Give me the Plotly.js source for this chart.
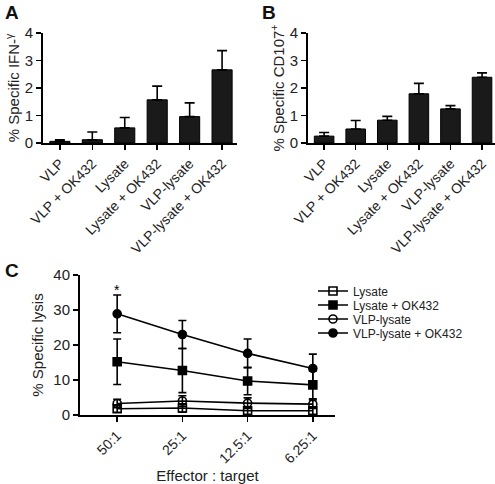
<!DOCTYPE html>
<html><head><meta charset="utf-8">
<script src="https://cdn.plot.ly/plotly-3.0.1.min.js"></script>
<style>html,body{margin:0;padding:0;background:#fff}#chart{width:495px;height:484px}</style>
</head><body><div id="chart"></div>
<script>
// ---- data ----
const treatments = ['VLP','VLP + OK432','Lysate','Lysate + OK432','VLP-lysate','VLP-lysate + OK432'];
const ifnMean = [0.06,0.12,0.55,1.57,0.96,2.66];
const ifnErr  = [0.06,0.28,0.38,0.50,0.50,0.70];
const cdMean  = [0.25,0.51,0.83,1.79,1.24,2.39];
const cdErr   = [0.13,0.31,0.14,0.38,0.12,0.16];

const ratios = ['50:1','25:1','12.5:1','6.25:1'];
const lysate      = [1.8,2.0,1.2,1.2];
const lysateErr   = [1.0,1.2,1.0,1.0];
const lysateOK    = [15.2,12.7,9.7,8.6];
const lysateOKErr = [6.5,6.3,3.9,4.0];
const vlpLys      = [3.3,4.0,3.4,3.1];
const vlpLysErr   = [1.2,1.5,1.5,1.2];
const vlpLysOK    = [28.9,23.0,17.6,13.3];
const vlpLysOKErr = [5.4,4.0,4.1,4.1];

const seriesNames = ['Lysate','Lysate + OK432','VLP-lysate','VLP-lysate + OK432'];
const seriesVals = [lysate, lysateOK, vlpLys, vlpLysOK];
const seriesErrs = [lysateErr, lysateOKErr, vlpLysErr, vlpLysOKErr];
const seriesSymbols = ['square-open','square','circle-open','circle'];

// ---- styling ----
const FONT = 'Arial, "Liberation Sans", Helvetica, sans-serif';
const TXT = '#222';
const W = 495, H = 484;
const px = v => v / W;
const py = v => 1 - v / H;

function barTrace(y, err, xa, ya){
  return {type:'bar', x:treatments, y:y, xaxis:xa, yaxis:ya, width:0.62,
    marker:{color:'#1a1a1a', line:{color:'#000', width:1}},
    error_y:{type:'data', symmetric:false, array:err, arrayminus:err.map(()=>0),
      color:'#000', thickness:1.6, width:5},
    showlegend:false, hoverinfo:'skip'};
}

const traces = [barTrace(ifnMean, ifnErr, 'x', 'y'), barTrace(cdMean, cdErr, 'x2', 'y2')];

seriesNames.forEach((n, i) => {
  traces.push({type:'scatter', mode:'lines+markers', name:n, x:ratios, y:seriesVals[i],
    xaxis:'x3', yaxis:'y3', legend: i === 0 ? 'legend' : 'legend' + (i + 1),
    line:{color:'#000', width:1.6},
    marker:{symbol:seriesSymbols[i], size:8, color:'#000', line:{color:'#000', width:1.6}},
    error_y:{type:'data', array:seriesErrs[i], color:'#000', thickness:1.6, width:4}});
});

const tickFont = {family:FONT, size:14, color:TXT};
function catAxis(domain, range, anchor){
  return {domain:domain, anchor:anchor, type:'category', range:range,
    showline:true, linecolor:'#000', linewidth:2, ticks:'outside', ticklen:5,
    tickwidth:1.5, tickcolor:'#000', tickangle:-45, tickfont:tickFont,
    showgrid:false, zeroline:false, automargin:false, fixedrange:true};
}
function valAxis(domain, range, dtick, anchor, title, standoff){
  return {domain:domain, anchor:anchor, range:range, dtick:dtick,
    showline:true, linecolor:'#000', linewidth:2, ticks:'outside', ticklen:5,
    tickwidth:1.5, tickcolor:'#000', tickfont:{family:FONT, size:15, color:TXT},
    showgrid:false, zeroline:false, automargin:false, fixedrange:true,
    title:{text:title, font:{family:FONT, size:15, color:TXT}, standoff:standoff}};
}

const legendBase = {x:px(313), xanchor:'left', yanchor:'middle',
  font:{family:FONT, size:12, color:TXT}, bgcolor:'rgba(0,0,0,0)', borderwidth:0, itemwidth:30};

const layout = {
  width:W, height:H, margin:{l:0, r:0, t:0, b:0},
  paper_bgcolor:'#fff', plot_bgcolor:'#fff', font:{family:FONT, color:TXT},
  showlegend:true,
  xaxis: catAxis([px(43), px(237)], [-0.52, 5.46], 'y'),
  yaxis: valAxis([py(143), py(33)], [0, 4], 1, 'x', '% Specific IFN-<sup>γ</sup>', 1),
  xaxis2: catAxis([px(308), 1], [-0.51, 5.41], 'y2'),
  yaxis2: valAxis([py(143), py(33)], [0, 4], 1, 'x2', '% Specific CD107<sup>+</sup>', 1),
  xaxis3: Object.assign(catAxis([px(80), px(335)], [-0.57, 3.34], 'y3'),
    {title:{text:'Effector : target', font:{family:FONT, size:15, color:TXT}, standoff:10}}),
  yaxis3: valAxis([py(415), py(275)], [0, 40], 10, 'x3', '% Specific lysis', 6),
  legend:  Object.assign({}, legendBase, {y:py(291)}),
  legend2: Object.assign({}, legendBase, {y:py(305)}),
  legend3: Object.assign({}, legendBase, {y:py(319)}),
  legend4: Object.assign({}, legendBase, {y:py(333)}),
  annotations:[
    {text:'<b>A</b>', xref:'paper', yref:'paper', x:px(3), y:py(12), xanchor:'left', yanchor:'middle', showarrow:false, font:{family:FONT, size:19, color:'#111'}},
    {text:'<b>B</b>', xref:'paper', yref:'paper', x:px(260), y:py(12), xanchor:'left', yanchor:'middle', showarrow:false, font:{family:FONT, size:19, color:'#111'}},
    {text:'<b>C</b>', xref:'paper', yref:'paper', x:px(3), y:py(270), xanchor:'left', yanchor:'middle', showarrow:false, font:{family:FONT, size:19, color:'#111'}},
    {text:'*', xref:'x3', yref:'y3', x:ratios[0], y:vlpLysOK[0] + vlpLysOKErr[0], yshift:5, showarrow:false, font:{family:FONT, size:14, color:'#000'}}
  ]
};

Plotly.newPlot('chart', traces, layout, {displayModeBar:false, staticPlot:true});
</script></body></html>
